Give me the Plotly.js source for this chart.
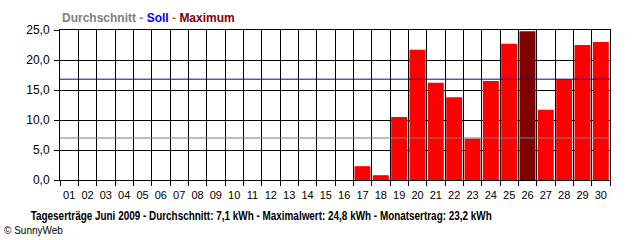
<!DOCTYPE html>
<html>
<head>
<meta charset="utf-8">
<script src="https://cdn.plot.ly/plotly-3.0.1.min.js"></script>
<style>html,body{margin:0;padding:0;background:#fff;}#chart{width:640px;height:240px;}</style>
</head>
<body>
<div id="chart"></div>
<script>
const days = ["01","02","03","04","05","06","07","08","09","10","11","12","13","14","15","16","17","18","19","20","21","22","23","24","25","26","27","28","29","30"];
const yields = [0,0,0,0,0,0,0,0,0,0,0,0,0,0,0,0,2.3,0.8,10.5,21.7,16.2,13.8,6.9,16.5,22.7,24.8,11.7,16.8,22.5,23.0];
const averageValue = 7.0;
const targetValue = 16.8;
const yTicks = [0,5,10,15,20,25];
const bottomTitle = "Tageserträge Juni 2009 - Durchschnitt: 7,1 kWh - Maximalwert: 24,8 kWh - Monatsertrag: 23,2 kWh";

const maxVal = Math.max(...yields);
const colors = yields.map(v => v === maxVal ? "#800000" : "#FF0000");

const bars = {
  type: "bar",
  x: days,
  y: yields,
  marker: {color: colors, line: {width: 0}},
  width: 0.87,
  hoverinfo: "x+y"
};

const layout = {
  width: 640, height: 240,
  margin: {l: 60, r: 30, t: 30, b: 60, pad: 0},
  paper_bgcolor: "#fff", plot_bgcolor: "#fff",
  separators: ",.",
  showlegend: false,
  font: {family: "Liberation Sans, Arial, sans-serif", size: 11, color: "#000"},
  xaxis: {
    type: "category",
    tickson: "boundaries",
    tickangle: 0,
    ticklabelstandoff: 5,
    showgrid: true, gridcolor: "#000", gridwidth: 1,
    showline: true, linecolor: "#000", linewidth: 1, mirror: true,
    ticks: "outside", ticklen: 5, tickcolor: "#000",
    tickfont: {family: "Liberation Sans, Arial, sans-serif", size: 11},
    zeroline: false, fixedrange: true
  },
  yaxis: {
    range: [0, 25],
    tickvals: yTicks,
    tickformat: ".1f",
    ticklabelstandoff: 2,
    showgrid: true, gridcolor: "#000", gridwidth: 1,
    showline: true, linecolor: "#000", linewidth: 1, mirror: true,
    ticks: "outside", ticklen: 5, tickcolor: "#000",
    tickfont: {family: "Liberation Sans, Arial, sans-serif", size: 12},
    zeroline: false, fixedrange: true
  },
  shapes: [
    {type: "line", xref: "paper", x0: 0, x1: 1, yref: "y", y0: averageValue, y1: averageValue, line: {color: "#808080", width: 1}, layer: "above"},
    {type: "line", xref: "paper", x0: 0, x1: 1, yref: "y", y0: targetValue, y1: targetValue, line: {color: "#0000C8", width: 1}, layer: "above"}
  ],
  annotations: [
    {xref: "paper", yref: "paper", x: 0, y: 1, xanchor: "left", yanchor: "bottom", yshift: 3, showarrow: false,
     text: '<b><span style="color:#808080">Durchschnitt</span><span style="color:#808080"> - </span><span style="color:#0000FF">Soll</span><span style="color:#808080"> - </span><span style="color:#800000">Maximum</span></b>',
     font: {family: "Liberation Sans, Arial, sans-serif", size: 12}},
    {xref: "paper", yref: "paper", x: 0.365, y: 0, xanchor: "center", yanchor: "top", yshift: -26, showarrow: false,
     text: "<b>" + bottomTitle + "</b>",
     font: {family: "Liberation Sans, Arial, sans-serif", size: 13, color: "#000"}},
    {xref: "paper", yref: "paper", x: 0, y: 0, xanchor: "left", yanchor: "top", xshift: -58, yshift: -43, showarrow: false,
     text: "© SunnyWeb",
     font: {family: "Liberation Sans, Arial, sans-serif", size: 10, color: "#000"}}
  ]
};

Plotly.newPlot("chart", [bars], layout, {displayModeBar: false, staticPlot: true}).then(function(gd){
  // compress the long bottom title horizontally to match the condensed original font
  const texts = gd.querySelectorAll(".annotation-text");
  texts.forEach(function(t){
    if (t.textContent.indexOf("Tageserträge") === 0) {
      const bb = t.getBBox();
      const target = 462;
      const cx = bb.x + bb.width / 2;
      t.setAttribute("transform", "translate(" + cx + ",0) scale(" + (target / bb.width) + ",1) translate(" + (-cx) + ",0)");
    }
  });
});
</script>
</body>
</html>
